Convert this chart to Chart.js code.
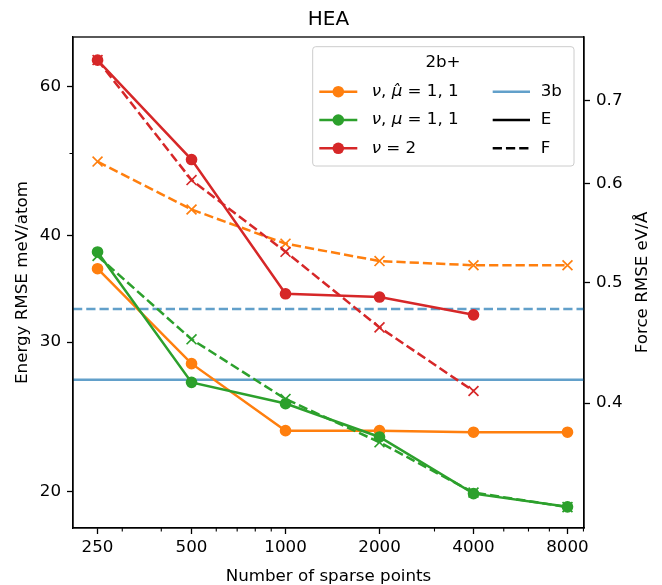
<!DOCTYPE html>
<html><head><meta charset="utf-8">
<script src="https://cdn.jsdelivr.net/npm/chart.js@4/dist/chart.umd.min.js"></script>
<style>html,body{margin:0;padding:0;background:#fff}#wrap{width:662px;height:585px}</style>
</head><body><div id="wrap"><canvas id="c" width="662" height="585"></canvas></div>
<script>
// ---- data ----
const sparsePoints = [250, 500, 1000, 2000, 4000, 8000];
const xTickLabels = ['250', '500', '1000', '2000', '4000', '8000'];
const xMinorTicks = [300, 400, 600, 700, 800, 900, 3000, 5000, 6000, 7000, 9000];
const energyTicks = [20, 30, 40, 60];
const energyMinorTicks = [50];
const forceTicks = [0.4, 0.5, 0.6, 0.7];

const energyHatMu = [36.6, 28.3, 23.6, 23.6, 23.5, 23.5];   // nu, mu^ = 1,1 (E)
const energyMu    = [38.3, 26.9, 25.4, 23.2, 19.9, 19.2];   // nu, mu = 1,1 (E)
const energyNu2   = [64.4, 49.2, 34.2, 33.9, 32.3];         // nu = 2 (E)
const forceHatMu  = [0.625, 0.572, 0.537, 0.520, 0.516, 0.516];
const forceMu     = [0.525, 0.450, 0.403, 0.372, 0.339, 0.330];
const forceNu2    = [0.754, 0.604, 0.529, 0.460, 0.409];
const energy3b = 27.1;
const force3b  = 0.476;

const X_MIN = 208.6, X_MAX = 9036;
const E_MIN = 18.13, E_MAX = 68.57;
const F_MIN = 0.3175, F_MAX = 0.7868;

const C_ORANGE = '#ff7f0e', C_GREEN = '#2ca02c', C_RED = '#d62728', C_BLUE = 'rgba(31,119,180,0.7)';
const FONT = '"DejaVu Sans", sans-serif';
const FS = 16.7;

function pts(arr) { return arr.map((v, i) => ({x: sparsePoints[i], y: v})); }

function eSet(label, arr, color) {
  return {label, data: pts(arr), yAxisID: 'yE', borderColor: color, backgroundColor: color,
    borderWidth: 2.5, pointRadius: 5, pointBorderWidth: 1.67, pointStyle: 'circle', tension: 0};
}
function fSet(label, arr, color) {
  return {label, data: pts(arr), yAxisID: 'yF', borderColor: color, backgroundColor: color,
    borderWidth: 2.5, borderDash: [9.25, 4], pointRadius: 7, pointBorderWidth: 1.67, pointStyle: 'crossRot', tension: 0};
}

const datasets = [
  eSet('nu2 E', energyNu2, C_RED),
  fSet('nu2 F', forceNu2, C_RED),
  eSet('mu E', energyMu, C_GREEN),
  fSet('mu F', forceMu, C_GREEN),
  eSet('hat E', energyHatMu, C_ORANGE),
  fSet('hat F', forceHatMu, C_ORANGE),
  {label: '3b E', data: [{x: X_MIN, y: energy3b}, {x: X_MAX, y: energy3b}], yAxisID: 'yE',
    borderColor: C_BLUE, borderWidth: 2.5, pointRadius: 0},
  {label: '3b F', data: [{x: X_MIN, y: force3b}, {x: X_MAX, y: force3b}], yAxisID: 'yF',
    borderColor: C_BLUE, borderWidth: 2.5, borderDash: [9.25, 4], pointRadius: 0}
];

const legendLeft = [
  {segs: [{t: 'ν', i: true}, {t: ', '}, {t: 'μ\u0302', i: true}, {t: ' = 1, 1'}], color: C_ORANGE},
  {segs: [{t: 'ν', i: true}, {t: ', '}, {t: 'μ', i: true}, {t: ' = 1, 1'}], color: C_GREEN},
  {segs: [{t: 'ν', i: true}, {t: ' = 2'}], color: C_RED}
];
const legendRight = [
  {text: '3b', color: C_BLUE, dash: []},
  {text: 'E', color: '#000', dash: []},
  {text: 'F', color: '#000', dash: [9.25, 4]}
];

const axisGrid = {display: true, drawOnChartArea: false, drawTicks: true, tickLength: 6, tickWidth: 1.3, tickColor: '#000'};
const axisBorder = {display: true, color: '#000', width: 1.3};

const decor = {
  id: 'decor',
  afterDraw(chart) {
    const ctx = chart.ctx, a = chart.chartArea;
    const sx = chart.scales.x, sE = chart.scales.yE;
    ctx.save();
    // frame
    ctx.strokeStyle = '#000'; ctx.lineWidth = 1.3;
    ctx.strokeRect(a.left, a.top, a.right - a.left, a.bottom - a.top);
    // minor ticks
    ctx.lineWidth = 1.1;
    ctx.beginPath();
    xMinorTicks.forEach(v => {
      if (v < X_MIN || v > X_MAX) return;
      const p = sx.getPixelForValue(v);
      ctx.moveTo(p, a.bottom); ctx.lineTo(p, a.bottom + 3.5);
    });
    energyMinorTicks.forEach(v => {
      const p = sE.getPixelForValue(v);
      ctx.moveTo(a.left, p); ctx.lineTo(a.left - 3.5, p);
    });
    ctx.stroke();
    // texts
    ctx.fillStyle = '#000';
    ctx.textAlign = 'center'; ctx.textBaseline = 'alphabetic';
    ctx.font = '20px ' + FONT;
    ctx.fillText('HEA', (a.left + a.right) / 2, 25);
    ctx.font = FS + 'px ' + FONT;
    ctx.fillText('Number of sparse points', (a.left + a.right) / 2, 581);
    const cy = (a.top + a.bottom) / 2;
    ctx.save(); ctx.translate(26.5, cy); ctx.rotate(-Math.PI / 2);
    ctx.fillText('Energy RMSE meV/atom', 0, 0); ctx.restore();
    ctx.save(); ctx.translate(647, cy); ctx.rotate(-Math.PI / 2);
    ctx.fillText('Force RMSE eV/Å', 0, 0); ctx.restore();
    // legend
    const L = 312.7, T = 46.7, R = 574, B = 166, rad = 3;
    ctx.beginPath();
    ctx.moveTo(L + rad, T); ctx.lineTo(R - rad, T); ctx.quadraticCurveTo(R, T, R, T + rad);
    ctx.lineTo(R, B - rad); ctx.quadraticCurveTo(R, B, R - rad, B);
    ctx.lineTo(L + rad, B); ctx.quadraticCurveTo(L, B, L, B - rad);
    ctx.lineTo(L, T + rad); ctx.quadraticCurveTo(L, T, L + rad, T);
    ctx.closePath();
    ctx.fillStyle = 'rgba(255,255,255,0.8)'; ctx.fill();
    ctx.strokeStyle = '#cccccc'; ctx.lineWidth = 1; ctx.stroke();
    ctx.fillStyle = '#000'; ctx.textBaseline = 'middle'; ctx.textAlign = 'center';
    ctx.font = FS + 'px ' + FONT;
    ctx.fillText('2b+', 443, 62.7);
    const rows = [91.7, 120, 148.3];
    ctx.textAlign = 'left';
    legendLeft.forEach((it, k) => {
      const y = rows[k];
      ctx.strokeStyle = it.color; ctx.lineWidth = 2.5; ctx.setLineDash([]);
      ctx.beginPath(); ctx.moveTo(319.3, y); ctx.lineTo(357.3, y); ctx.stroke();
      ctx.fillStyle = it.color; ctx.beginPath(); ctx.arc(338.3, y, 5.8, 0, Math.PI * 2); ctx.fill();
      ctx.fillStyle = '#000';
      let x = 371.7;
      it.segs.forEach(s => {
        ctx.font = (s.i ? 'italic ' : '') + FS + 'px ' + FONT;
        ctx.fillText(s.t, x, y);
        x += ctx.measureText(s.t).width;
      });
    });
    legendRight.forEach((it, k) => {
      const y = rows[k];
      ctx.strokeStyle = it.color; ctx.lineWidth = 2.5; ctx.setLineDash(it.dash);
      ctx.beginPath(); ctx.moveTo(492.7, y); ctx.lineTo(530, y); ctx.stroke();
      ctx.setLineDash([]);
      ctx.fillStyle = '#000'; ctx.font = FS + 'px ' + FONT;
      ctx.fillText(it.text, 540.7, y);
    });
    ctx.restore();
  }
};

new Chart(document.getElementById('c'), {
  type: 'line',
  data: {datasets},
  options: {
    responsive: false, animation: false, devicePixelRatio: 1,
    layout: {padding: {top: 37, left: 0, right: 0, bottom: 0}},
    plugins: {legend: {display: false}, tooltip: {enabled: false}, title: {display: false}},
    scales: {
      x: {
        type: 'logarithmic', position: 'bottom', min: X_MIN, max: X_MAX,
        afterBuildTicks: s => { s.ticks = sparsePoints.map(v => ({value: v})); },
        afterFit: s => { s.height = 57; },
        grid: axisGrid, border: axisBorder,
        ticks: {autoSkip: false, maxRotation: 0, padding: 4, color: '#000', font: {family: FONT, size: FS},
          callback: v => xTickLabels[sparsePoints.indexOf(v)]}
      },
      yE: {
        type: 'logarithmic', position: 'left', min: E_MIN, max: E_MAX,
        afterBuildTicks: s => { s.ticks = energyTicks.map(v => ({value: v})); },
        afterFit: s => { s.width = 73; },
        grid: axisGrid, border: axisBorder,
        ticks: {autoSkip: false, padding: 6, color: '#000', font: {family: FONT, size: FS},
          callback: v => String(v)}
      },
      yF: {
        type: 'logarithmic', position: 'right', min: F_MIN, max: F_MAX,
        afterBuildTicks: s => { s.ticks = forceTicks.map(v => ({value: v})); },
        afterFit: s => { s.width = 78; },
        grid: axisGrid, border: axisBorder,
        ticks: {autoSkip: false, padding: 6, color: '#000', font: {family: FONT, size: FS},
          callback: v => v.toFixed(1)}
      }
    }
  },
  plugins: [decor]
});
</script>
</body></html>
